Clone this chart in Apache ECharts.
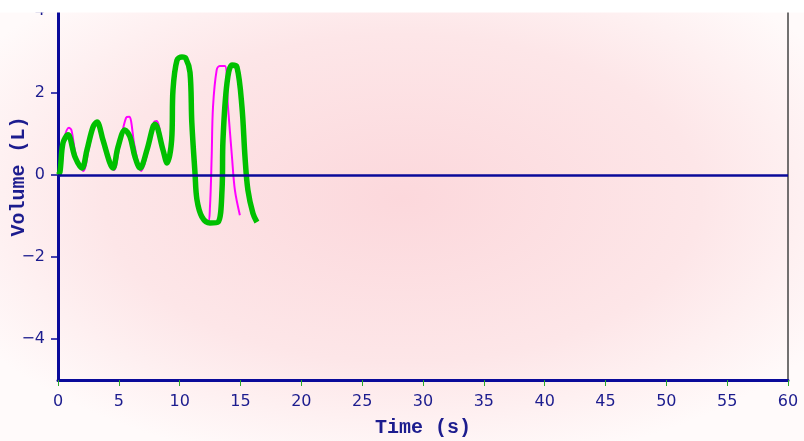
<!DOCTYPE html>
<html>
<head>
<meta charset="utf-8">
<script src="https://cdn.jsdelivr.net/npm/echarts@6/dist/echarts.min.js"></script>
<style>
  html, body { margin: 0; padding: 0; background: #fff; }
  #chart { width: 804px; height: 441px; }
</style>
</head>
<body>
<div id="chart"></div>
<script>
// 时间 (s) 与容积 (L)
const greenTime = [0, 0.16, 0.41, 0.82, 1.4, 1.97, 2.38, 2.88, 3.2, 3.7, 4.27, 4.52, 4.93, 5.5, 5.92, 6.33, 6.74, 7.31, 7.8, 7.97, 8.63, 8.96, 9.34, 9.45, 9.78, 10.19, 10.5, 10.85, 11.0, 11.26, 11.42, 11.83, 12.49, 13.15, 13.48, 13.56, 13.89, 14.3, 14.71, 15.12, 15.37, 15.61, 16.02, 16.35]
const greenVol = [0, 0.07, 0.78, 0.98, 0.44, 0.17, 0.61, 1.17, 1.29, 0.85, 0.29, 0.17, 0.68, 1.1, 0.93, 0.44, 0.17, 0.61, 1.17, 1.24, 0.61, 0.29, 0.85, 2.07, 2.8, 2.88, 2.85, 2.5, 1.27, 0.05, -0.6, -1.02, -1.17, -1.15, -0.37, 0.85, 2.24, 2.68, 2.63, 1.66, 0.44, -0.37, -0.93, -1.15]

const pinkTime = [0, 0.25, 0.5, 0.9, 1.1, 1.5, 2.1, 2.5, 2.95, 3.2, 3.75, 4.3, 4.6, 5.05, 5.6, 5.85, 6.3, 6.85, 7.4, 7.9, 8.1, 8.6, 9.0, 9.35, 9.45, 9.78, 10.19, 10.5, 10.9, 11.05, 11.3, 11.45, 11.85, 12.33, 12.49, 12.63, 12.74, 13.04, 13.3, 13.72, 13.97, 14.3, 14.54, 14.95]
const pinkVol = [0, 0.1, 0.85, 1.15, 1.1, 0.45, 0.1, 0.6, 1.2, 1.3, 0.8, 0.25, 0.12, 0.7, 1.4, 1.42, 0.7, 0.1, 0.6, 1.3, 1.32, 0.7, 0.3, 0.85, 2.07, 2.8, 2.88, 2.85, 2.5, 1.27, 0.05, -0.6, -1.02, -1.15, -0.78, 0.44, 1.66, 2.56, 2.66, 2.66, 1.66, 0.44, -0.37, -0.98]

const xTicks = [0, 5, 10, 15, 20, 25, 30, 35, 40, 45, 50, 55, 60]
const yTicks = [-4, -2, 0, 2, 4]

const navy = "#0a0a9a"
const labelColor = "#1c1c8e"

const toPairs = (xs, ys) => xs.map((x, i) => [x, ys[i]])

const chart = echarts.init(document.getElementById("chart"))
chart.setOption({
  animation: false,
  graphic: [
    {
      // 粉色渐变背景
      type: "rect",
      z: -10,
      silent: true,
      shape: { x: 0, y: 0, width: 441, height: 441 },
      scaleX: 804 / 441,
      style: {
        fill: new echarts.graphic.RadialGradient(0.5, 0.45, 0.62, [
          { offset: 0, color: "#fcd8dc" },
          { offset: 0.6, color: "#fde6e8" },
          { offset: 1, color: "#fffafa" }
        ])
      }
    },
    {
      type: "rect",
      z: 100,
      silent: true,
      shape: { x: 0, y: 0, width: 804, height: 12.5 },
      style: { fill: "#ffffff" }
    }
  ],
  grid: {
    left: 58, right: 16, top: 11, bottom: 61,
    outerBoundsMode: "none",
    show: true,
    backgroundColor: "transparent",
    borderColor: "#444",
    borderWidth: 1.5
  },
  xAxis: {
    type: "value",
    min: 0,
    max: 60,
    interval: 5,
    name: "Time (s)",
    nameLocation: "middle",
    nameGap: 38,
    nameMoveOverlap: false,
    nameTextStyle: { fontFamily: "Liberation Mono", fontWeight: "bold", fontSize: 20, color: labelColor },
    axisLine: { onZero: false, lineStyle: { color: navy, width: 3 } },
    axisTick: { customValues: xTicks, length: 6, lineStyle: { color: "#2aa82a", width: 1 } },
    axisLabel: { customValues: xTicks, margin: 14, fontFamily: "DejaVu Sans", fontSize: 16, color: labelColor },
    splitLine: { show: false }
  },
  yAxis: {
    type: "value",
    min: -5,
    max: 4,
    name: "Volume (L)",
    nameLocation: "middle",
    nameGap: 29,
    nameMoveOverlap: false,
    nameTextStyle: { fontFamily: "Liberation Mono", fontWeight: "bold", fontSize: 20, color: labelColor, padding: [0, 0, 0, 38] },
    axisLine: { show: true, onZero: false, lineStyle: { color: navy, width: 3 } },
    axisTick: { show: true, customValues: yTicks, length: 7, lineStyle: { color: navy, width: 1.5 } },
    axisLabel: {
      customValues: yTicks,
      margin: 13,
      fontFamily: "DejaVu Sans",
      fontSize: 16,
      color: labelColor,
      formatter: (v) => String(v).replace("-", "\u2212")
    },
    splitLine: { show: false }
  },
  series: [
    {
      name: "pink",
      type: "line",
      data: toPairs(pinkTime, pinkVol),
      smooth: 0.35,
      showSymbol: false,
      lineStyle: { color: "#ff00ff", width: 2 },
      z: 3
    },
    {
      name: "green",
      type: "line",
      data: toPairs(greenTime, greenVol),
      smooth: 0.35,
      showSymbol: false,
      lineStyle: { color: "#00c000", width: 5.5 },
      z: 4,
      markLine: {
        silent: true,
        symbol: "none",
        label: { show: false },
        lineStyle: { color: navy, width: 2.5, type: "solid" },
        data: [{ yAxis: 0 }]
      }
    }
  ]
})
</script>
</body>
</html>
